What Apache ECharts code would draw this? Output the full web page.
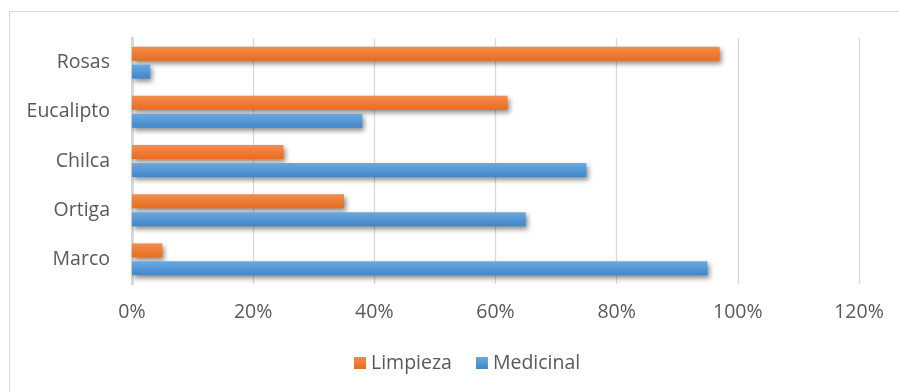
<!DOCTYPE html>
<html>
<head>
<meta charset="utf-8">
<script src="https://cdn.jsdelivr.net/npm/echarts@6/dist/echarts.min.js"></script>
<style>
  html, body { margin: 0; padding: 0; background: #ffffff; }
  #chart { width: 899px; height: 392px; }
</style>
</head>
<body>
<div id="chart"></div>
<script>
// Plant species and the share of each use
const categories = ['Marco', 'Ortiga', 'Chilca', 'Eucalipto', 'Rosas'];
const limpieza = [0.05, 0.35, 0.25, 0.62, 0.97];
const medicinal = [0.95, 0.65, 0.75, 0.38, 0.03];
const xTicks = [0, 0.2, 0.4, 0.6, 0.8, 1.0, 1.2];

const FONT = 'Open Sans';
const TEXT = '#595959';
const SIZE = 19.5;

function grad(top, bottom) {
  return new echarts.graphic.LinearGradient(0, 0, 0, 1, [
    { offset: 0, color: top },
    { offset: 1, color: bottom }
  ]);
}

const orange = grad('#F28C4E', '#E66E1E');
const blue = grad('#6CA8DF', '#3F86CB');

const shadow = {
  shadowBlur: 5,
  shadowOffsetX: 2,
  shadowOffsetY: 3,
  shadowColor: 'rgba(0,0,0,0.45)'
};

const chart = echarts.init(document.getElementById('chart'), null, { renderer: 'canvas' });

chart.setOption({
  animation: false,
  backgroundColor: '#ffffff',
  textStyle: { fontFamily: FONT },
  graphic: [{
    type: 'rect',
    silent: true,
    shape: { x: 9.5, y: 11.5, width: 1000, height: 1000 },
    style: { fill: 'none', stroke: '#d9d9d9', lineWidth: 1 }
  }],
  grid: { left: 132, right: 40, top: 38, bottom: 108 },
  legend: {
    data: ['Limpieza', 'Medicinal'],
    bottom: 14,
    left: 349,
    icon: 'rect',
    itemWidth: 12,
    itemHeight: 12,
    itemGap: 24,
    textStyle: { color: TEXT, fontSize: SIZE, fontFamily: FONT }
  },
  xAxis: {
    type: 'value',
    min: xTicks[0],
    max: xTicks[xTicks.length - 1],
    interval: 0.2,
    axisLine: { show: false },
    axisTick: { show: false },
    splitLine: { show: true, lineStyle: { color: '#d9d9d9', width: 1.3 } },
    axisLabel: {
      color: TEXT,
      fontSize: SIZE,
      fontFamily: FONT,
      margin: 18,
      formatter: v => Math.round(v * 100) + '%'
    }
  },
  yAxis: {
    type: 'category',
    data: categories,
    axisLine: { show: true, lineStyle: { color: '#d9d9d9', width: 3 } },
    axisTick: { show: false },
    axisLabel: { color: TEXT, fontSize: SIZE, fontFamily: FONT, margin: 22, padding: [4, 0, 0, 0] }
  },
  series: [
    {
      name: 'Limpieza',
      type: 'bar',
      data: limpieza,
      barWidth: 14,
      barGap: '28%',
      itemStyle: Object.assign({ color: orange }, shadow)
    },
    {
      name: 'Medicinal',
      type: 'bar',
      data: medicinal,
      barWidth: 14,
      barGap: '28%',
      itemStyle: Object.assign({ color: blue }, shadow)
    }
  ],
  color: ['#ED7D31', '#5B9BD5']
});
</script>
</body>
</html>
